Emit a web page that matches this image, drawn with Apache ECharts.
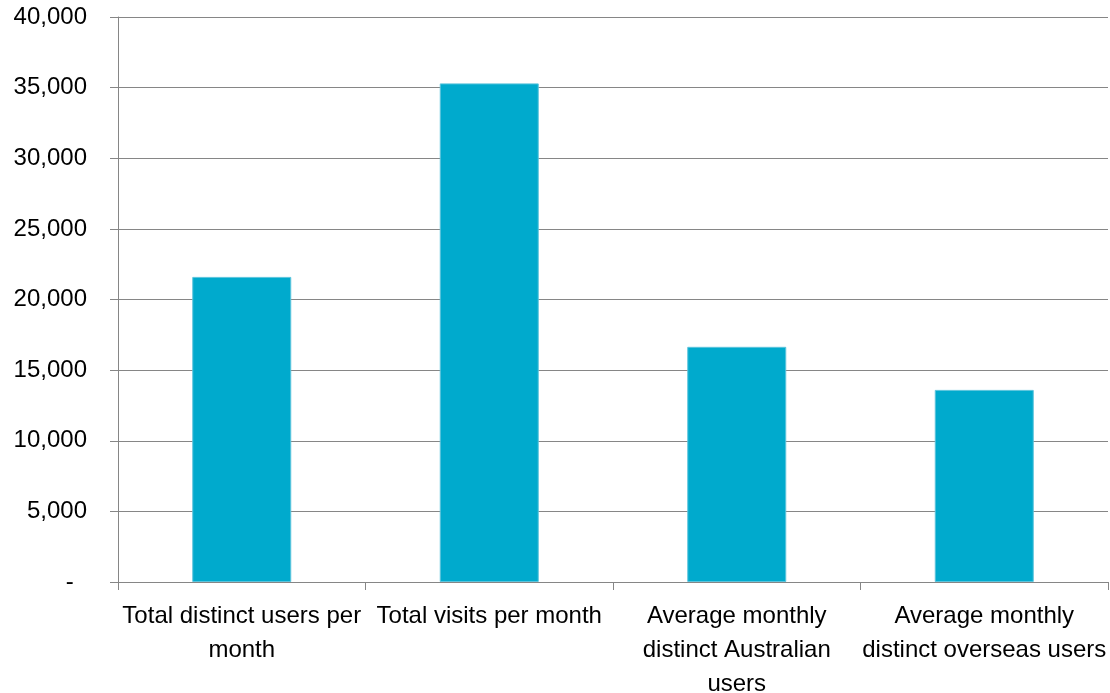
<!DOCTYPE html>
<html>
<head>
<meta charset="utf-8">
<script src="https://cdn.jsdelivr.net/npm/echarts@6/dist/echarts.min.js"></script>
<style>
  html, body { margin: 0; padding: 0; background: #fff; overflow: hidden; }
  #chart { width: 1110px; height: 693px; }
</style>
</head>
<body>
<div id="chart"></div>
<script>
// Monthly usage figures
const categories = [
  'Total distinct users per\nmonth',
  'Total visits per month',
  'Average monthly\ndistinct Australian\nusers',
  'Average monthly\ndistinct overseas users'
];
const values = [21600, 35300, 16650, 13600];
const yTicks = { min: 0, max: 40000, interval: 5000 };

const axisGrey = '#868686';
const font = '"Liberation Sans", Arial, sans-serif';

const chart = echarts.init(document.getElementById('chart'), null, { renderer: 'canvas' });
chart.setOption({
  animation: false,
  backgroundColor: '#ffffff',
  grid: {
    left: 118, right: 2, top: 17, bottom: 111,
    containLabel: false,
    outerBoundsMode: 'none'
  },
  xAxis: {
    type: 'category',
    data: categories,
    boundaryGap: true,
    axisLine: { lineStyle: { color: axisGrey, width: 1 } },
    axisTick: { show: true, length: 8, alignWithLabel: false, lineStyle: { color: axisGrey } },
    axisLabel: {
      interval: 0,
      margin: 17,
      color: '#000',
      fontFamily: font,
      fontSize: 24,
      lineHeight: 34,
      align: 'center'
    }
  },
  yAxis: {
    type: 'value',
    min: yTicks.min,
    max: yTicks.max,
    interval: yTicks.interval,
    axisLine: { show: true, lineStyle: { color: axisGrey, width: 1 } },
    axisTick: { show: true, length: 8, lineStyle: { color: axisGrey } },
    splitLine: { show: true, lineStyle: { color: axisGrey, width: 1 } },
    axisLabel: {
      margin: 31,
      color: '#000',
      fontFamily: font,
      fontSize: 24,
      formatter: v => v === 0 ? '-  ' : v.toLocaleString('en-US')
    }
  },
  series: [{
    type: 'bar',
    data: values,
    barWidth: '40%',
    itemStyle: { color: '#00AACD', borderColor: '#5cc4dc', borderWidth: 1 }
  }]
});
</script>
</body>
</html>
